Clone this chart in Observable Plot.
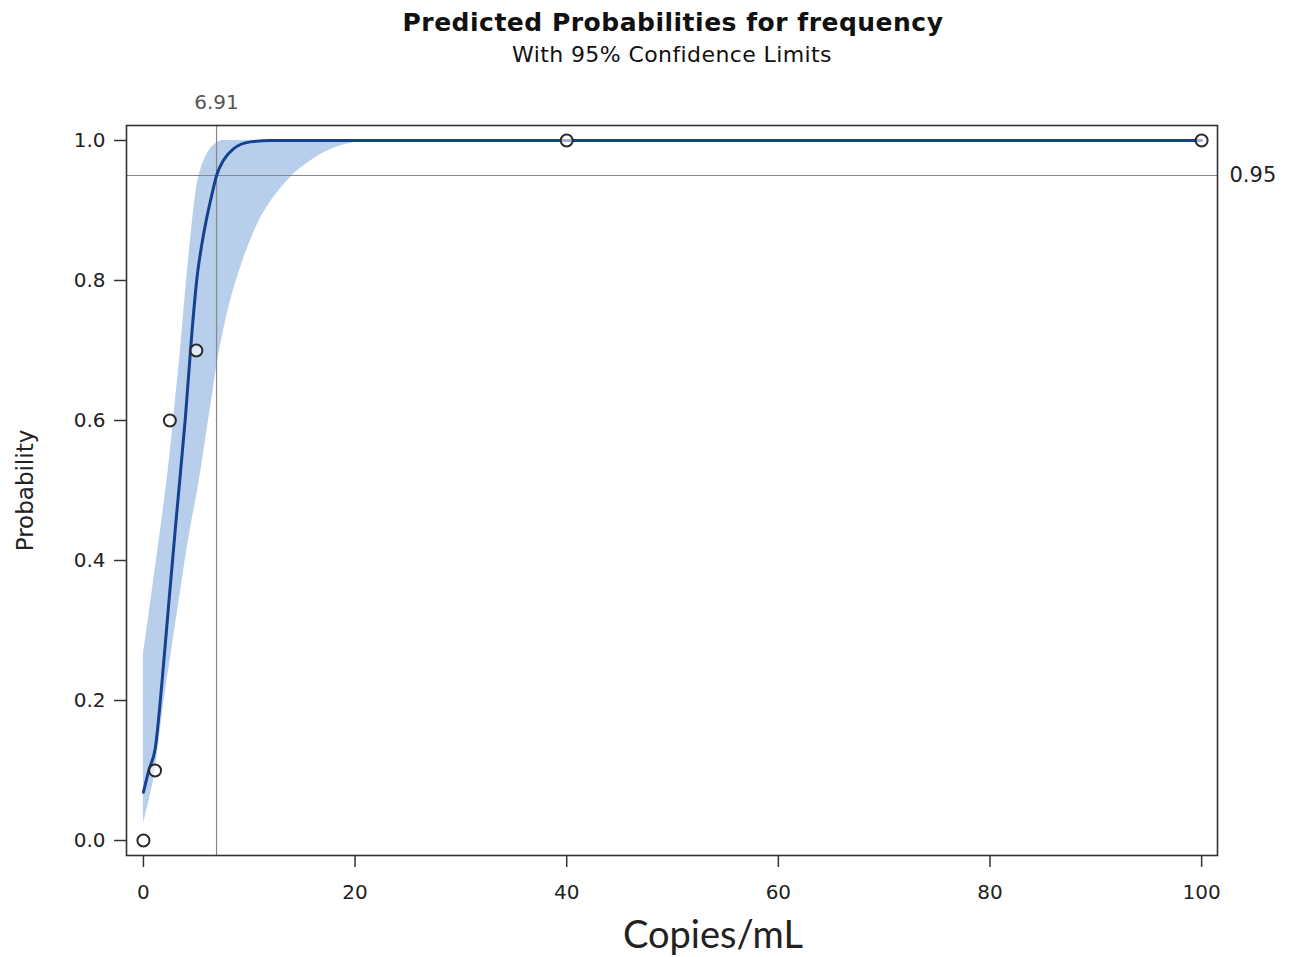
<!DOCTYPE html>
<html>
<head>
<meta charset="utf-8">
<script src="https://cdn.jsdelivr.net/npm/d3@7"></script>
<script src="https://cdn.jsdelivr.net/npm/@observablehq/plot@0.6"></script>
<style>
  body { margin: 0; background: #fff; }
  #wrap { position: relative; width: 1298px; height: 957px; }
  #title { position: absolute; top: 8px; left: 0; width: 1346px; text-align: center; line-height: 1.2;
    font-family: "DejaVu Sans", sans-serif; font-weight: bold; font-size: 25px; letter-spacing: 0.5px; color: #111; }
  #subtitle { position: absolute; top: 42px; left: 0; width: 1344px; text-align: center; line-height: 1.2;
    font-family: "DejaVu Sans", sans-serif; font-size: 22px; letter-spacing: 0.4px; color: #111; }
  #chart { position: absolute; top: 0; left: 0; }
</style>
</head>
<body>
<div id="wrap">
  <div id="chart"></div>
  <div id="title">Predicted Probabilities for frequency</div>
  <div id="subtitle">With 95% Confidence Limits</div>
</div>
<script>
// Observed data points
const obsX = [0, 1.1, 2.5, 5, 40, 100];
const obsY = [0, 0.1, 0.6, 0.7, 1.0, 1.0];

// Fitted probability curve
const fitX = [0, 0.5, 1.13, 1.77, 2.4, 3.1, 3.97, 4.6, 5.07, 5.5, 5.86, 6.49, 6.91, 7.58, 8.5, 10.1, 12, 15, 20, 40, 60, 80, 100];
const fitY = [0.069, 0.10, 0.133, 0.229, 0.34, 0.46, 0.605, 0.729, 0.805, 0.85, 0.88, 0.924, 0.95, 0.972, 0.988, 0.998, 1.0, 1.0, 1.0, 1.0, 1.0, 1.0, 1.0];

// 95% confidence band
const bandX = [0, 0.5, 1, 1.5, 2, 2.5, 3, 3.5, 4, 4.5, 5, 5.5, 6, 6.5, 7, 7.5, 8, 9, 10, 11, 12, 13, 14, 15, 16, 17, 18, 20, 22, 100];
const bandLow = [0.024, 0.055, 0.09, 0.145, 0.205, 0.255, 0.305, 0.355, 0.405, 0.45, 0.49, 0.535, 0.585, 0.634, 0.684, 0.723, 0.757, 0.81, 0.853, 0.887, 0.912, 0.932, 0.949, 0.962, 0.973, 0.982, 0.989, 0.997, 1.0, 1.0];
const bandHigh = [0.267, 0.32, 0.375, 0.43, 0.487, 0.55, 0.625, 0.70, 0.788, 0.865, 0.93, 0.962, 0.98, 0.991, 0.997, 1.0, 1.0, 1.0, 1.0, 1.0, 1.0, 1.0, 1.0, 1.0, 1.0, 1.0, 1.0, 1.0, 1.0, 1.0];

const xTicks = [0, 20, 40, 60, 80, 100];
const yTicks = [0, 0.2, 0.4, 0.6, 0.8, 1.0];
const cutX = 6.91;
const cutY = 0.95;

const obs = obsX.map((x, i) => ({x, y: obsY[i]}));
const fit = fitX.map((x, i) => ({x, y: fitY[i]}));
const band = bandX.map((x, i) => ({x, lo: bandLow[i], hi: bandHigh[i]}));

const font = "'DejaVu Sans', sans-serif";

const chart = Plot.plot({
  width: 1298,
  height: 957,
  marginLeft: 126,
  marginRight: 81,
  marginTop: 125,
  marginBottom: 102,
  style: { fontFamily: font, color: "#222", background: "#fff" },
  x: { domain: [-1.6, 101.5] },
  y: { domain: [-0.0214, 1.0214] },
  marks: [
    Plot.areaY(band, { x: "x", y1: "lo", y2: "hi", fill: "#b7cfeb", curve: "monotone-x" }),
    Plot.ruleX([cutX], { stroke: "#888", strokeWidth: 1.2 }),
    Plot.ruleY([cutY], { stroke: "#888", strokeWidth: 1.2 }),
    Plot.line(fit, { x: "x", y: "y", stroke: "#16418f", strokeWidth: 3, curve: "monotone-x" }),
    Plot.dot(obs, { x: "x", y: "y", r: 6, stroke: "#2a2a2a", strokeWidth: 2, fill: "#fff", fillOpacity: 0.6 }),
    Plot.frame({ stroke: "#333", strokeWidth: 1.6 }),
    Plot.axisX({ ticks: xTicks, tickSize: 12, tickPadding: 17, fontSize: 20, label: null, stroke: "#333", strokeWidth: 1.5 }),
    Plot.axisY({ ticks: yTicks, tickSize: 12, tickPadding: 9, fontSize: 20, tickFormat: d3.format(".1f"), label: null, stroke: "#333", strokeWidth: 1.5 }),
    Plot.text([cutX], { x: d => d, frameAnchor: "top", lineAnchor: "middle", dy: -23, text: d => d.toFixed(2), fontSize: 20, fill: "#555" }),
    Plot.text([cutY], { y: d => d, frameAnchor: "right", lineAnchor: "middle", dx: 12, textAnchor: "start", text: d => d.toFixed(2), fontSize: 21, fill: "#222" }),
    Plot.text(["Copies/mL"], { frameAnchor: "bottom", lineAnchor: "middle", dx: 41, dy: 80, text: d => d, fontSize: 38, fontFamily: "Lato, 'Open Sans', sans-serif", fill: "#222" }),
    Plot.text(["Probability"], { frameAnchor: "left", lineAnchor: "middle", textAnchor: "middle", dx: -101, rotate: -90, text: d => d, fontSize: 23, fill: "#222" })
  ]
});
document.getElementById("chart").appendChild(chart);
</script>
</body>
</html>
